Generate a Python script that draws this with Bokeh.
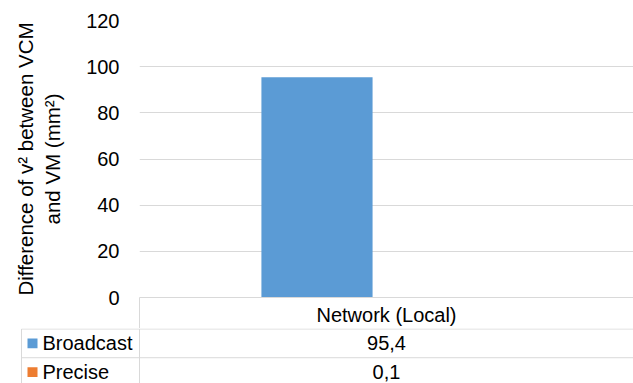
from bokeh.plotting import figure
from bokeh.layouts import column
from bokeh.models import Range1d, FixedTicker, LinearAxis, ColumnDataSource
from bokeh.core.properties import value
from bokeh.embed import file_html
from bokeh.resources import INLINE

# chart data
categories = ["Network (Local)"]
series_names = ["Broadcast", "Precise"]
series_colors = ["#5B9BD5", "#ED7D31"]
broadcast = [95.4]
precise = [0.1]
y_ticks = [0, 20, 40, 60, 80, 100, 120]

FONT = "Liberation Sans"
FS = "20px"
GRID = "#D9D9D9"

W, H = 633, 383
LEFT, TOP = 139, 20
HEADER_H = 31            # category row of the data table
CHART_H = 328            # bar figure incl. the category row

# ---- bar chart; category i occupies [i, i+1] on the x axis ----
n_cat = len(categories)
p = figure(width=W, height=CHART_H, x_range=Range1d(0, n_cat),
           y_range=Range1d(0, 120), output_backend="svg", toolbar_location=None,
           x_axis_type=None,
           min_border_left=LEFT, min_border_right=0, min_border_top=TOP,
           min_border_bottom=HEADER_H)
p.frame_align = False
p.outline_line_color = None
p.border_fill_color = "white"

bar_w = 0.225
offsets = [-0.1407, 0.1407]
centers = [i + 0.5 for i in range(n_cat)]
src = ColumnDataSource(dict(
    xb=[c + offsets[0] for c in centers],
    xp=[c + offsets[1] for c in centers],
    broadcast=broadcast, precise=precise))
p.vbar(x="xb", top="broadcast", bottom=0, width=bar_w, source=src,
       fill_color=series_colors[0], line_color=None)
p.vbar(x="xp", top="precise", bottom=0, width=bar_w, source=src,
       fill_color=series_colors[1], line_color=None)

# category row of the table: labels at the centres, cell borders as minor ticks
xa = LinearAxis(ticker=FixedTicker(ticks=centers,
                                   minor_ticks=list(range(n_cat + 1))))
xa.major_label_overrides = {c: name for c, name in zip(centers, categories)}
xa.axis_line_color = GRID
xa.major_tick_line_color = None
xa.major_tick_out = 0
xa.major_tick_in = 0
xa.minor_tick_line_color = GRID
xa.minor_tick_out = HEADER_H
xa.minor_tick_in = 0
xa.major_label_standoff = -25
xa.major_label_text_font = FONT
xa.major_label_text_font_size = FS
xa.major_label_text_color = "black"
p.add_layout(xa, "below")

p.xgrid.visible = False
p.ygrid.grid_line_color = GRID
p.ygrid.grid_line_width = 1

ya = p.yaxis[0]
ya.ticker = FixedTicker(ticks=y_ticks)
ya.axis_line_color = None
ya.major_tick_line_color = None
ya.minor_tick_line_color = None
ya.major_tick_out = 0
ya.major_tick_in = 0
ya.major_label_standoff = 20
ya.major_label_text_font = FONT
ya.major_label_text_font_size = FS
ya.major_label_text_color = "black"
ya.axis_label = "Difference of v\u00b2 between VCM\nand VM (mm\u00b2)"
ya.axis_label_text_font = FONT
ya.axis_label_text_font_size = "20.5px"
ya.axis_label_text_font_style = "normal"
ya.axis_label_text_color = "black"
ya.axis_label_standoff = 19

# ---- series rows of the data table (page-pixel coordinates, y downwards) ----
TABLE_H = H - CHART_H
t = figure(width=W, height=TABLE_H, x_range=Range1d(0, W),
           y_range=Range1d(H, CHART_H - 0.5), output_backend="svg",
           toolbar_location=None, x_axis_type=None, y_axis_type=None,
           min_border=0, min_border_left=0, min_border_right=0,
           min_border_top=0, min_border_bottom=0)
t.frame_align = False
t.grid.visible = False
t.outline_line_color = None
t.border_fill_color = "white"

row_h = 29.0
table_left = 21
n = len(series_names)
hy = [CHART_H + i * row_h for i in range(n + 1)]
t.segment(x0=[table_left] * len(hy), x1=[W] * len(hy), y0=hy, y1=hy,
          line_color=GRID, line_width=1)
t.segment(x0=[LEFT, table_left], x1=[LEFT, table_left], y0=[CHART_H, CHART_H],
          y1=[H, H], line_color=GRID, line_width=1)

row_c = [CHART_H + i * row_h + row_h / 2 for i in range(n)]
t.rect(x=[32] * n, y=row_c, width=10, height=10, fill_color=series_colors,
       line_color=None)
t.text(x=[42] * n, y=row_c, text=series_names, text_font=value(FONT),
       text_font_size=FS, text_color="black", text_align="left",
       text_baseline="middle")
col_x = LEFT + (W - LEFT) / n_cat * centers[0]
vals = [broadcast[0], precise[0]]
t.text(x=[col_x] * n, y=row_c, text=[f"{v:.1f}".replace(".", ",") for v in vals],
       text_font=value(FONT), text_font_size=FS, text_color="black",
       text_align="center", text_baseline="middle")

layout = column(p, t, spacing=0)
open("out.html", "w").write(file_html(layout, INLINE))
